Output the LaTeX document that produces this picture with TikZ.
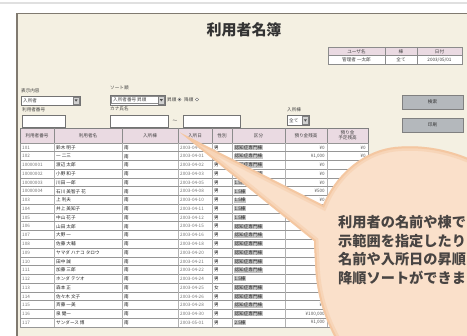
\documentclass[tikz,border=0pt]{standalone}
\usepackage{fontspec}
\newfontfamily\jp{Noto Sans CJK JP}
\definecolor{panelbg}{RGB}{244,240,226}
\definecolor{panelbd}{RGB}{128,122,112}
\definecolor{hdrpink}{RGB}{234,218,226}
\definecolor{btnfill}{RGB}{180,184,188}
\definecolor{peach}{RGB}{250,224,202}
\definecolor{peachrim}{RGB}{242,182,134}
\definecolor{calltext}{RGB}{72,68,66}
\definecolor{gridc}{RGB}{150,150,150}
\begin{document}
\begin{tikzpicture}[x=1pt,y=-1pt,
  tiny/.style={font=\jp\fontsize{4.6}{5.2}\selectfont, text=black!75, inner sep=0pt},
  lbl/.style={tiny, anchor=west},
  ctr/.style={tiny, anchor=center},
  ralign/.style={tiny, anchor=east},
  fieldbox/.style={fill=white, draw=black!55, line width=0.6},
  arrowbox/.style={fill=black!18, draw=black!50, line width=0.4},
  btnbox/.style={fill=btnfill, draw=black!50, line width=0.8},
  gridline/.style={draw=gridc, line width=0.7},
  calltxt/.style={font=\jp\bfseries\fontsize{14.2}{14.2}\selectfont, text=calltext, inner sep=0pt, anchor=west}
]
\useasboundingbox (0,0) rectangle (467,336);
\clip (0,0) rectangle (467,336);
\fill[white] (0,0) rectangle (467,336);
\draw[black!12, line width=1.5] (0,3) -- (467,3);

% panel
\filldraw[fill=panelbg, draw=panelbd, line width=1.6] (17,13.5) rectangle (490,350);

% title
\node[font=\jp\bfseries\fontsize{15}{15}\selectfont, text=black!80, inner sep=0] (title) at (244,29.5) {利用者名簿};

% user table (top right)
\filldraw[fill=hdrpink, draw=black!45, line width=0.6] (328,47) rectangle (462,55.5);
\filldraw[fill=white, draw=black!45, line width=0.6] (328,55.5) rectangle (462,64);
\draw[black!45, line width=0.6] (385,47) -- (385,64) (417,47) -- (417,64);
\node[ctr] (uh1) at (356.5,51.3) {ユーザ名};
\node[ctr] (uh2) at (401,51.3) {棟};
\node[ctr] (uh3) at (439.5,51.3) {日付};
\node[ctr] (uv1) at (356.5,59.8) {管理者 一太郎};
\node[ctr] (uv2) at (401,59.8) {全て};
\node[ctr] (uv3) at (439.5,59.8) {2003/05/01};

% buttons
\filldraw[btnbox] (402,95) rectangle (463,109);
\node[ctr, text=black!80] (bsearch) at (432.5,102) {検索};
\filldraw[btnbox] (402,118) rectangle (463,132);
\node[ctr, text=black!80] (bprint) at (432.5,125) {印刷};

% controls
\node[lbl] (l1) at (21,90.5) {表示内容};
\filldraw[fieldbox] (21,96) rectangle (80,105);
\filldraw[arrowbox] (73,96.8) rectangle (79.2,104.2);
\fill[black!70] (74.6,99.5) -- (77.6,99.5) -- (76.1,101.7) -- cycle;
\node[lbl] (v1) at (23,100.5) {入所者};

\node[lbl] (l2) at (22,109.5) {利用者番号};
\filldraw[fieldbox] (22,115) rectangle (65,127);

\node[lbl] (l3) at (110,88) {ソート順};
\filldraw[fieldbox] (110,95) rectangle (165,105);
\draw[black!45, line width=0.4] (111.5,96.5) rectangle (158,103.5);
\filldraw[arrowbox] (158.5,95.8) rectangle (164.2,104.2);
\fill[black!70] (159.8,99.2) -- (162.8,99.2) -- (161.3,101.4) -- cycle;
\node[lbl] (v3) at (113,100) {入所者番号 昇順};
\node[lbl] (r1) at (167,100) {昇順};
\filldraw[fill=white, draw=black!60, line width=0.4] (179.5,99.5) circle (1.6);
\fill[black!80] (179.5,99.5) circle (0.7);
\node[lbl] (r2) at (184,100) {降順};
\filldraw[fill=white, draw=black!60, line width=0.4] (197,99.5) circle (1.6);

\node[lbl] (l4) at (110,109) {カナ氏名};
\filldraw[fieldbox] (110,115) rectangle (168,127);
\node[ctr] (tilde) at (175,121) {～};
\filldraw[fieldbox] (183,115) rectangle (240,127);

\node[lbl] (l5) at (287,110) {入所棟};
\filldraw[fieldbox] (287,115.5) rectangle (309,125);
\filldraw[arrowbox] (302.5,116.2) rectangle (308.3,124.3);
\fill[black!70] (303.9,119.4) -- (306.9,119.4) -- (305.4,121.6) -- cycle;
\node[lbl] (v5) at (289,120.3) {全て};

% main table header
\filldraw[fill=hdrpink, draw=black!50, line width=0.8] (20,128) rectangle (368,143);
\foreach \xx in {54,122,178,212,232,285,327} \draw[black!45, line width=0.6] (\xx,128) -- (\xx,143);
\node[ctr] (h1) at (37,135.5) {利用者番号};
\node[ctr] (h2) at (88,135.5) {利用者名};
\node[ctr] (h3) at (150,135.5) {入所棟};
\node[ctr] (h4) at (195,135.5) {入所日};
\node[ctr] (h5) at (222,135.5) {性別};
\node[ctr] (h6) at (258.5,135.5) {区分};
\node[ctr] (h7) at (306,135.5) {預り金残高};
\node[ctr, align=center] (h8) at (347.5,135.5) {預り金\\予定残高};

% data rows
\foreach \num/\name/\dt/\sx/\kb/\ma/\mb [count=\i from 0] in {
 101/鈴木 明子/{2003-04-01}/男/認知症専門棟/¥0/¥0,
 102/一 二三/{2003-04-01}/男/認知症専門棟/{¥1,000}/¥0,
 10000001/渡辺 太郎/{2003-04-02}/男/認知症専門棟/¥0/¥0,
 10000002/小野 和子/{2003-04-03}/男/認知症専門棟/¥0/¥0,
 10000003/川田 一郎/{2003-04-05}/男/1.5棟/¥0/{},
 10000004/石川 美智子 花/{2003-04-08}/男/1.5棟/¥500/{},
 103/上 利夫/{2003-04-10}/男/1.5棟/¥0/{},
 104/井上 美知子/{2003-04-11}/男/1.5棟/{}/{},
 105/中山 花子/{2003-04-12}/男/1.5棟/{}/{},
 106/山田 太郎/{2003-04-15}/男/認知症専門棟/{}/{},
 107/大野 一/{2003-04-16}/男/認知症専門棟/{}/{},
 108/佐藤 大輔/{2003-04-18}/男/認知症専門棟/{}/{},
 109/ヤマダ ハナコ タロウ/{2003-04-20}/男/認知症専門棟/{}/{},
 110/田中 誠/{2003-04-21}/男/認知症専門棟/¥0/{},
 111/加藤 三郎/{2003-04-22}/男/認知症専門棟/¥0/{},
 112/ホンダ テツオ/{2003-04-24}/男/1.5棟/¥0/{},
 113/森本 正/{2003-04-25}/女/認知症専門棟/¥0/{},
 114/佐々木 文子/{2003-04-26}/男/認知症専門棟/¥0/{},
 115/斉藤 一美/{2003-04-28}/男/認知症専門棟/¥0/{},
 116/泉 健一/{2003-04-30}/男/認知症専門棟/{¥100,000}/{},
 117/サンダース 博/{2003-05-01}/男/2.5棟/{¥1,000}/{}} {
  \pgfmathsetmacro\ya{143+\i*8.76}
  \pgfmathsetmacro\yb{\ya+8.76}
  \pgfmathsetmacro\ym{\ya+4.5}
  \filldraw[fill=white, gridline] (20,\ya) rectangle (368,\yb);
  \foreach \xx in {54,122,178,212,232,285,327} \draw[black!30, line width=0.5] (\xx,\ya) -- (\xx,\yb);
  \node[lbl, text=black!55] (c1-\i) at (22,\ym) {\num};
  \node[lbl, text=black!85] (c2-\i) at (56,\ym) {\name};
  \node[lbl, text=black!90] (c3-\i) at (124,\ym) {南};
  \node[lbl, text=black!55] (c4-\i) at (180,\ym) {\dt};
  \node[lbl, text=black!90] (c5-\i) at (214,\ym) {\sx};
  \node[lbl, text=black!85, fill=black!22, inner sep=0.4pt] (c6-\i) at (234,\ym) {\kb};
  \node[ralign, text=black!65] (c7-\i) at (325,\ym) {\ma};
  \node[ralign, text=black!65] (c8-\i) at (366,\ym) {\mb};
}

% callout bubble with tail
\path[fill=peach]
  (180,132.5) -- (323,205)
  .. controls (334,178) and (360,151) .. (395,147)
  .. controls (425,144) and (455,150) .. (485,166)
  -- (485,350) -- (342,350)
  .. controls (325,322) and (316,296) .. (315,262)
  .. controls (314.5,252) and (314,246) .. (314,241)
  -- cycle;
\begin{scope}
\clip
  (180,132.5) -- (323,205)
  .. controls (334,178) and (360,151) .. (395,147)
  .. controls (425,144) and (455,150) .. (485,166)
  -- (485,350) -- (342,350)
  .. controls (325,322) and (316,296) .. (315,262)
  .. controls (314.5,252) and (314,246) .. (314,241)
  -- cycle;
\draw[peachrim, line width=9, opacity=0.25]
  (180,132.5) -- (323,205)
  .. controls (334,178) and (360,151) .. (395,147)
  .. controls (425,144) and (455,150) .. (485,166)
  (342,350)
  .. controls (325,322) and (316,296) .. (315,262)
  .. controls (314.5,252) and (314,246) .. (314,241)
  -- (180,132.5);
\draw[peachrim, line width=4, opacity=0.45]
  (180,132.5) -- (323,205)
  .. controls (334,178) and (360,151) .. (395,147)
  .. controls (425,144) and (455,150) .. (485,166)
  (342,350)
  .. controls (325,322) and (316,296) .. (315,262)
  .. controls (314.5,252) and (314,246) .. (314,241)
  -- (180,132.5);
\end{scope}

\node[calltxt] (t1) at (338,222) {利用者の名前や棟で};
\node[calltxt] (t2) at (338,240.7) {示範囲を指定したり};
\node[calltxt] (t3) at (338,259.4) {名前や入所日の昇順};
\node[calltxt] (t4) at (338,278.1) {降順ソートができま};
\end{tikzpicture}
\end{document}
